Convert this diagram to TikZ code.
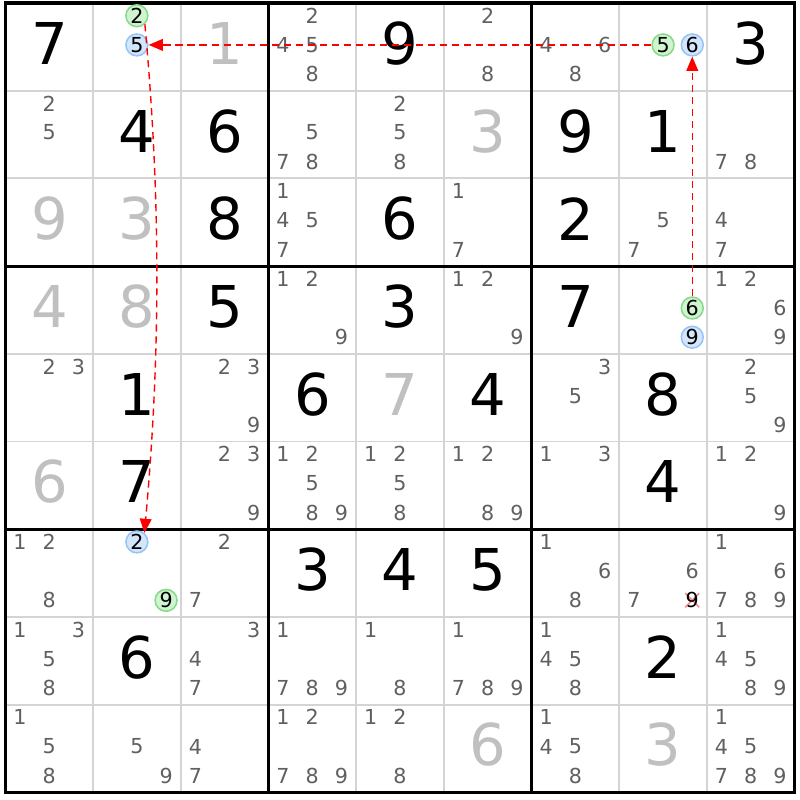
\documentclass[tikz,border=0pt]{standalone}
\usepackage{fontspec}
\setmainfont{DejaVu Sans}
\usepackage{tikz}
\usetikzlibrary{arrows.meta}
\definecolor{candgray}{RGB}{96,96,96}
\definecolor{solvedgray}{RGB}{192,192,192}
\definecolor{gridgray}{RGB}{212,212,212}
\definecolor{greenfill}{RGB}{208,244,208}
\definecolor{greenedge}{RGB}{136,218,136}
\definecolor{bluefill}{RGB}{212,230,252}
\definecolor{blueedge}{RGB}{150,196,246}
\definecolor{crosspink}{RGB}{242,140,140}

\begin{document}
\begin{tikzpicture}[x=1cm,y=-1cm,
		given/.style={font=\fontsize{18.7}{20}\selectfont,inner sep=0pt},
		solved/.style={given,text=solvedgray},
		cand/.style={font=\fontsize{6.7}{8}\selectfont,text=candgray,inner sep=0pt},
		greencand/.style={cand,text=black,circle,draw=greenedge,fill=greenfill,line width=0.5pt,minimum size=7.1pt},
		bluecand/.style={cand,text=black,circle,draw=blueedge,fill=bluefill,line width=0.5pt,minimum size=7.1pt},
		link/.style={red,dash pattern=on 2.3pt off 1.6pt,line width=0.45pt,-{Triangle[length=4.6pt,width=3.8pt]}}]
		\useasboundingbox (-0.0627,-0.0342) rectangle (9.059,9.088);
		\fill[white] (-0.0627,-0.0342) rectangle (9.059,9.088);
		% grid
		\foreach \i in {1,2,4,5,7,8}
			\draw[gridgray,line width=0.6pt] (\i,0)--(\i,9) (0,\i)--(9,\i);
		\foreach \i in {3,6}
			\draw[line width=1pt] (\i,0)--(\i,9) (0,\i)--(9,\i);
		\draw[line width=1pt] (0,0) rectangle (9,9);
		% givens
		\foreach \r/\c/\v in {0/0/7,0/4/9,0/8/3,1/1/4,1/2/6,1/6/9,1/7/1,2/2/8,2/4/6,2/6/2,
			3/2/5,3/4/3,3/6/7,4/1/1,4/3/6,4/5/4,4/7/8,5/1/7,5/7/4,6/3/3,6/4/4,6/5/5,7/1/6,7/7/2}
			\node[given] (v\r\c) at (\c+0.5,\r+0.46) {\v};
		% solved
		\foreach \r/\c/\v in {0/2/1,1/5/3,2/0/9,2/1/3,3/0/4,3/1/8,4/4/7,5/0/6,8/5/6,8/7/3}
			\node[solved] (v\r\c) at (\c+0.5,\r+0.46) {\v};
		% candidates
		\foreach \r/\c/\cl in {0/3/{2,4,5,8},0/5/{2,8},0/6/{4,6,8},
			1/0/{2,5},1/3/{5,7,8},1/4/{2,5,8},1/8/{7,8},
			2/3/{1,4,5,7},2/5/{1,7},2/7/{5,7},2/8/{4,7},
			3/3/{1,2,9},3/5/{1,2,9},3/8/{1,2,6,9},
			4/0/{2,3},4/2/{2,3,9},4/6/{3,5},4/8/{2,5,9},
			5/2/{2,3,9},5/3/{1,2,5,8,9},5/4/{1,2,5,8},5/5/{1,2,8,9},5/6/{1,3},5/8/{1,2,9},
			6/0/{1,2,8},6/2/{2,7},6/6/{1,6,8},6/7/{6,7},6/8/{1,6,7,8,9},
			7/0/{1,3,5,8},7/2/{3,4,7},7/3/{1,7,8,9},7/4/{1,8},7/5/{1,7,8,9},7/6/{1,4,5,8},7/8/{1,4,5,8,9},
			8/0/{1,5,8},8/1/{5,9},8/2/{4,7},8/3/{1,2,7,8,9},8/4/{1,2,8},8/6/{1,4,5,8},8/8/{1,4,5,7,8,9}}
			\foreach \d in \cl
				\node[cand] (n\r\c\d) at ({\c+0.165+0.333*mod(\d-1,3)},{\r+0.145+0.333*int((\d-1)/3)}) {\d};
		% marked candidates
		\node[greencand] (g2) at (1.498,0.145) {2};
		\node[bluecand] (b5) at (1.498,0.478) {5};
		\node[greencand] (g5) at (7.498,0.478) {5};
		\node[bluecand] (b6) at (7.831,0.478) {6};
		\node[greencand] (g6) at (7.831,3.478) {6};
		\node[bluecand] (b9) at (7.831,3.811) {9};
		\node[bluecand] (b2) at (1.498,6.145) {2};
		\node[greencand] (g9) at (1.831,6.811) {9};
		% eliminated
		\draw[crosspink,line width=0.5pt] (7.75,6.73)--(7.91,6.89) (7.75,6.89)--(7.91,6.73);
		\node[cand,text=black] (x9) at (7.831,6.811) {9};
		% links
		\draw[link] (g5) -- (b5);
		\draw[link] (g2.-47) .. controls (1.77,2.2) and (1.77,4.0) .. (b2.50);
		\draw[link] (g6) -- (b6);
	\end{tikzpicture}
\end{document}
